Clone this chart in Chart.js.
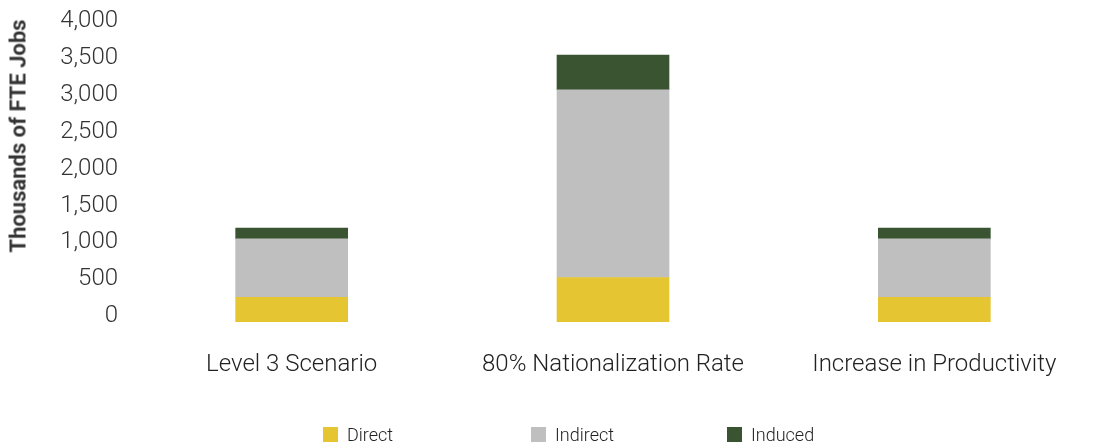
<!DOCTYPE html>
<html><head><meta charset="utf-8">
<script src="https://cdn.jsdelivr.net/npm/chart.js@4"></script>
<style>
html,body{margin:0;padding:0;background:#fff;}
#wrap{position:relative;width:1095px;height:448px;font-family:Roboto,sans-serif;overflow:hidden;}
#c{position:absolute;left:0;top:0;}
#ytitle{position:absolute;left:18px;top:136px;transform:translate(-50%,-50%) rotate(-90deg);white-space:nowrap;font-family:Roboto,sans-serif;font-weight:bold;font-size:22px;color:#333;}
#legend{position:absolute;left:323px;top:427px;display:flex;}
.li{display:flex;align-items:center;height:15px;font-size:18px;font-weight:300;color:#222;}
.box{width:15px;height:15px;margin-right:9px;flex:none;}
</style></head>
<body>
<div id="wrap">
<canvas id="c" width="1095" height="448"></canvas>
<div id="ytitle">Thousands of FTE Jobs</div>
<div id="legend"></div>
</div>
<script>
const categories = ['Level 3 Scenario', '80% Nationalization Rate', 'Increase in Productivity'];
const seriesNames = ['Direct', 'Indirect', 'Induced'];
const direct = [336, 604, 336];
const indirect = [792, 2550, 792];
const induced = [148, 470, 148];
const yTicks = [0, 500, 1000, 1500, 2000, 2500, 3000, 3500, 4000];
const colors = ['#E5C532', '#BFBFBF', '#3A5432'];

const chart = new Chart(document.getElementById('c'), {
  type: 'bar',
  data: {
    labels: categories,
    datasets: [
      {label: seriesNames[0], data: direct, backgroundColor: colors[0]},
      {label: seriesNames[1], data: indirect, backgroundColor: colors[1]},
      {label: seriesNames[2], data: induced, backgroundColor: colors[2]}
    ]
  },
  options: {
    responsive: false,
    animation: false,
    barThickness: 112,
    layout: {padding: {top: 24, right: -30, bottom: 0, left: 0}},
    plugins: {legend: {display: false}, tooltip: {enabled: false}},
    scales: {
      x: {
        stacked: true,
        grid: {display: false, drawTicks: false},
        border: {display: false},
        ticks: {font: {family: 'Roboto', size: 24, weight: '300'}, color: '#222', padding: 29, maxRotation: 0},
        afterFit(s) { s.height = 126; }
      },
      y: {
        stacked: true,
        min: 0, max: 4000,
        grid: {display: false, drawTicks: false},
        border: {display: false},
        afterBuildTicks(s) { s.ticks = yTicks.map(v => ({value: v})); },
        ticks: {font: {family: 'Roboto', size: 24, weight: '300'}, color: '#333', padding: 13, labelOffset: -6,
          callback: v => Number(v).toLocaleString('en-US')},
        afterFit(s) { s.width = 131; }
      }
    }
  }
});

const widths = [208, 196, null];
const lg = document.getElementById('legend');
chart.data.datasets.forEach((d, i) => {
  const it = document.createElement('div');
  it.className = 'li';
  if (widths[i]) it.style.width = widths[i] + 'px';
  const b = document.createElement('span');
  b.className = 'box';
  b.style.background = d.backgroundColor;
  const t = document.createElement('span');
  t.textContent = d.label;
  it.appendChild(b); it.appendChild(t);
  lg.appendChild(it);
});
</script>
</body></html>
